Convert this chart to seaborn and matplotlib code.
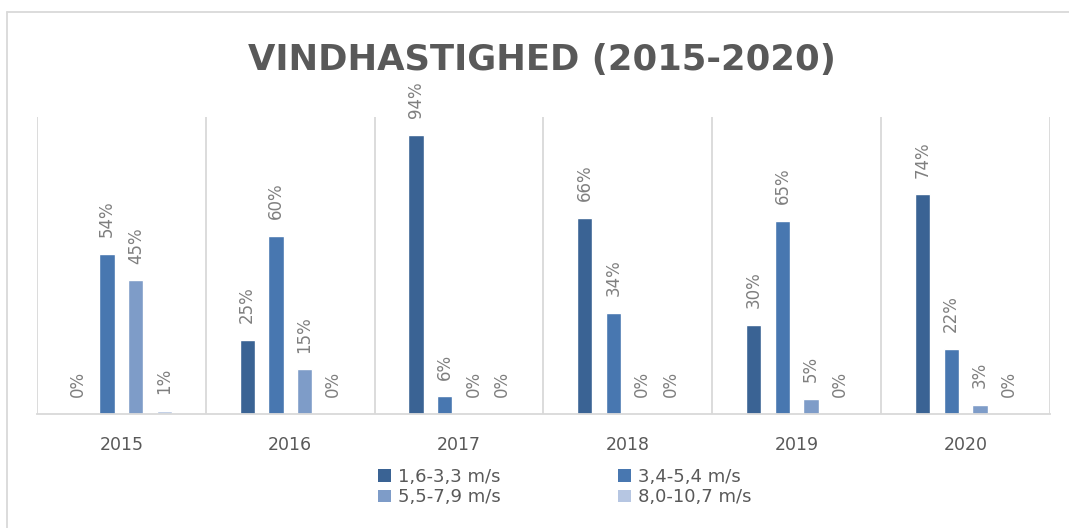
import matplotlib
matplotlib.use("Agg")
import matplotlib.pyplot as plt
import seaborn as sns
import pandas as pd
from matplotlib.lines import Line2D
from matplotlib.patches import Patch

years = ["2015", "2016", "2017", "2018", "2019", "2020"]
series_names = ["1,6-3,3 m/s", "3,4-5,4 m/s", "5,5-7,9 m/s", "8,0-10,7 m/s"]
s1 = [0, 25, 94, 66, 30, 74]
s2 = [54, 60, 6, 34, 65, 22]
s3 = [45, 15, 0, 0, 5, 3]
s4 = [1, 0, 0, 0, 0, 0]
title = "VINDHASTIGHED (2015-2020)"

colors = ["#3A6394", "#4877B0", "#7E9CC8", "#B6C6E2"]

rows = []
for name, vals in zip(series_names, [s1, s2, s3, s4]):
    for y, v in zip(years, vals):
        rows.append({"year": y, "series": name, "value": v / 100.0})
df = pd.DataFrame(rows)

sns.set_theme(style="white")
plt.rcParams["font.family"] = ["DejaVu Sans"]

W, H = 1069, 528
fig = plt.figure(figsize=(W / 100, H / 100), dpi=100)
ax = fig.add_axes([37 / W, 1 - 414 / H, (1050 - 37) / W, (414 - 117) / H])

sns.barplot(data=df, x="year", y="value", hue="series", palette=colors,
            width=0.68, gap=0.47, ax=ax, legend=False, saturation=1,
            errorbar=None)

ax.set_ylim(0, 1.0)
ax.set_xlim(-0.5, 5.5)
ax.set_xlabel("")
ax.set_ylabel("")
ax.set_yticks([])
for s in ["left", "right", "top"]:
    ax.spines[s].set_visible(False)
ax.spines["bottom"].set_color("#D9D9D9")
ax.spines["bottom"].set_linewidth(1.3)
ax.set_xticks(range(len(years)))
ax.set_xticklabels(years)
ax.tick_params(axis="x", length=0, pad=16, labelsize=12.5, labelcolor="#595959")
ax.set_xticks([i - 0.5 for i in range(len(years) + 1)], minor=True)
ax.tick_params(axis="x", which="minor", length=0)
ax.grid(False)
ax.grid(True, axis="x", which="minor", color="#D9D9D9", linewidth=1.3)

for cont, vals in zip(ax.containers, [s1, s2, s3, s4]):
    ax.bar_label(cont, labels=[f"{v}%" for v in vals], rotation=90,
                 padding=12, fontsize=12, color="#7F7F7F")

# title
fig.text(542 / W, 1 - 60 / H, title, ha="center", va="center",
         fontsize=25.5, fontweight="bold", color="#595959")

# chart frame
fig.add_artist(Line2D([7 / W, 7 / W], [0, 1 - 12 / H], transform=fig.transFigure,
                      color="#D9D9D9", linewidth=1.3))
fig.add_artist(Line2D([7 / W, 1], [1 - 12 / H, 1 - 12 / H], transform=fig.transFigure,
                      color="#D9D9D9", linewidth=1.3))

handles = [Patch(facecolor=c, edgecolor="none", label=n) for c, n in zip(colors, series_names)]
order = [0, 2, 1, 3]
fig.legend(handles=[handles[i] for i in order],
           labels=[series_names[i] for i in order], ncol=2, loc="center",
           bbox_to_anchor=(565 / W, 1 - 487 / H), frameon=False,
           fontsize=13, labelcolor="#595959", handlelength=0.7, handleheight=0.7,
           handletextpad=0.4, columnspacing=6.5, labelspacing=0.15)

fig.savefig("out.png", dpi=100)
